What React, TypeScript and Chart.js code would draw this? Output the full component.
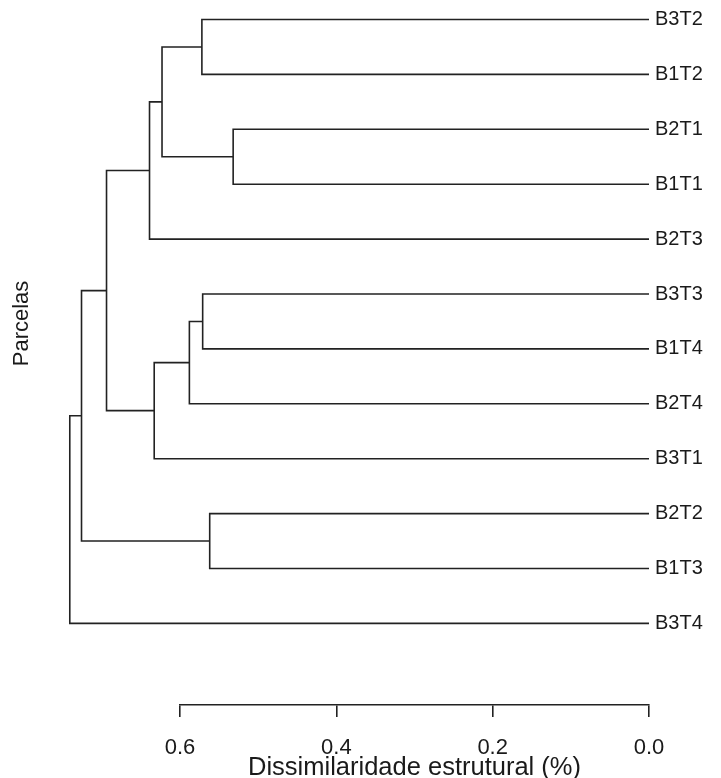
import React, { useEffect, useRef } from "react";
import { Chart, registerables } from "chart.js";

Chart.register(...registerables);

// Leaves, top to bottom
const leafLabels = ["B3T2", "B1T2", "B2T1", "B1T1", "B2T3", "B3T3", "B1T4", "B2T4", "B3T1", "B2T2", "B1T3", "B3T4"];

// Merge table (R style): negative = leaf (1-based), positive = earlier merge (1-based)
const mergeLeft = [-3, -10, -6, -1, 3, 4, 5, 6, 8, 9, 10];
const mergeRight = [-4, -11, -7, -2, -8, 1, -9, -5, 7, 2, -12];
const mergeHeight = [0.532, 0.562, 0.571, 0.572, 0.588, 0.623, 0.633, 0.639, 0.694, 0.726, 0.741];

const xTicks = [0, 0.2, 0.4, 0.6];

const FONT = '"Liberation Sans", Arial, sans-serif';
const LINE = "#222222";
const TEXT = "#1a1a1a";

function buildSegments() {
  const nodeY: number[] = [];
  const nodeH: number[] = [];
  const pos = (ref: number) => (ref < 0 ? { h: 0, y: -ref } : { h: nodeH[ref - 1], y: nodeY[ref - 1] });
  const segs: { x: number; y: number }[][] = [];
  for (let i = 0; i < mergeHeight.length; i++) {
    const a = pos(mergeLeft[i]);
    const b = pos(mergeRight[i]);
    const h = mergeHeight[i];
    nodeH.push(h);
    nodeY.push((a.y + b.y) / 2);
    segs.push([
      { x: a.h, y: a.y },
      { x: h, y: a.y },
      { x: h, y: b.y },
      { x: b.h, y: b.y },
    ]);
  }
  return segs;
}

const ylabPlugin = {
  id: "ylab",
  afterDraw(chart: any) {
    const { ctx } = chart;
    const y = chart.scales.y.getPixelForValue((1 + leafLabels.length) / 2);
    ctx.save();
    ctx.translate(14, y + 2);
    ctx.rotate(-Math.PI / 2);
    ctx.textAlign = "center";
    ctx.textBaseline = "middle";
    ctx.fillStyle = TEXT;
    ctx.font = `22px ${FONT}`;
    ctx.fillText("Parcelas", 0, 0);
    ctx.restore();
  },
};

export default function App() {
  const ref = useRef<HTMLCanvasElement>(null);
  useEffect(() => {
    if (!ref.current) return;
    const segs = buildSegments();
    const chart = new Chart(ref.current, {
      type: "scatter",
      data: {
        datasets: segs.map((s) => ({
          data: s,
          showLine: true,
          borderColor: LINE,
          borderWidth: 1.6,
          pointRadius: 0,
          pointHoverRadius: 0,
          tension: 0,
          clip: false as any,
        })),
      },
      options: {
        animation: false,
        responsive: false,
        events: [],
        layout: { padding: { left: 172, top: 0, right: 0, bottom: 0 } },
        plugins: { legend: { display: false }, tooltip: { enabled: false } },
        scales: {
          x: {
            type: "linear",
            reverse: true,
            min: 0,
            max: 0.6,
            afterBuildTicks: (axis: any) => {
              axis.ticks = xTicks.map((v) => ({ value: v }));
            },
            afterFit: (axis: any) => {
              axis.height = 73;
              axis.paddingLeft = 0;
              axis.paddingRight = 0;
            },
            ticks: {
              color: TEXT,
              font: { family: FONT, size: 22, lineHeight: 1.2 },
              padding: 18,
              maxRotation: 0,
              autoSkip: false,
              callback: (v: any) => Number(v).toFixed(1),
            },
            grid: {
              display: true,
              drawOnChartArea: false,
              drawTicks: true,
              tickLength: 12,
              color: LINE,
              lineWidth: 1.6,
            },
            border: { display: true, color: LINE, width: 1.6 },
            title: {
              display: true,
              text: "Dissimilaridade estrutural (%)",
              color: TEXT,
              font: { family: FONT, size: 25.5, lineHeight: 0.25 },
              padding: { top: 0, bottom: 7 },
            },
          },
          y: {
            type: "linear",
            position: "right",
            reverse: true,
            min: 0.7905,
            max: 13.486,
            afterBuildTicks: (axis: any) => {
              axis.ticks = leafLabels.map((_, i) => ({ value: i + 1 }));
            },
            afterFit: (axis: any) => {
              axis.width = 64;
              axis.paddingTop = 0;
              axis.paddingBottom = 0;
            },
            ticks: {
              color: TEXT,
              font: { family: FONT, size: 20 },
              padding: 6,
              autoSkip: false,
              callback: (_v: any, i: number) => leafLabels[i],
            },
            grid: { display: false, drawTicks: false, tickLength: 0 },
            border: { display: false },
          },
        },
      },
      plugins: [ylabPlugin],
    });
    return () => chart.destroy();
  }, []);
  return (
    <canvas
      ref={ref}
      width={705}
      height={770}
      style={{ display: "block", position: "absolute", left: 8, top: 8 }}
    />
  );
}
